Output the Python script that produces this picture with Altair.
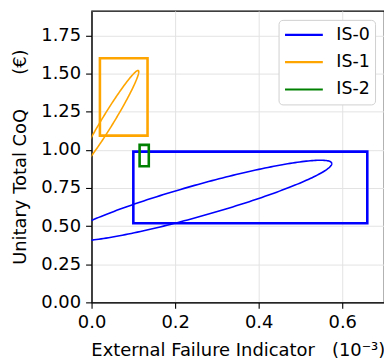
import altair as alt
import numpy as np
import pandas as pd

# Series
series = ["IS-0", "IS-1", "IS-2"]
colors = ["#0000ff", "#ffa500", "#008000"]

# Rectangles (ranges) per series
box_x1 = [0.100, 0.020, 0.115]
box_x2 = [0.660, 0.134, 0.137]
box_y1 = [0.518, 1.093, 0.892]
box_y2 = [0.988, 1.600, 1.032]

# Ellipse parameters per series: centre, x half-width, y coupling terms
ell_series = ["IS-0", "IS-1"]
ell_cx = [0.255, 0.040]
ell_cy = [0.666, 1.195]
ell_sx = [0.320, 0.073]
ell_a = [0.243, 0.316]
ell_b = [0.107, 0.073]

x_ticks = [0.0, 0.2, 0.4, 0.6]
y_ticks = [0.0, 0.25, 0.5, 0.75, 1.0, 1.25, 1.5, 1.75]

box_df = pd.DataFrame({"series": series, "x1": box_x1, "x2": box_x2,
                       "y1": box_y1, "y2": box_y2})

t = np.linspace(0, 2 * np.pi, 241)
rows = []
for s, cx, cy, sx, a, b in zip(ell_series, ell_cx, ell_cy, ell_sx, ell_a, ell_b):
    for i, tt in enumerate(t):
        rows.append({"series": s, "t": i,
                     "x": cx + sx * np.cos(tt),
                     "y": cy + a * np.cos(tt) + b * np.sin(tt)})
ell_df = pd.DataFrame(rows)

NB = "\u00a0"
x_scale = alt.Scale(domain=[0, 0.7], nice=False, zero=False)
y_scale = alt.Scale(domain=[0, 1.91], nice=False, zero=False)
c_scale = alt.Scale(domain=series, range=colors)

x_axis = alt.Axis(title="External Failure Indicator" + NB * 3 + "(10⁻³)",
                  values=x_ticks, format=".1f", labelFlush=False)
y_axis = alt.Axis(title="Unitary Total CoQ" + NB * 6 + "(€)",
                  values=y_ticks, format=".2f", labelFlush=False)

legend = alt.Legend(title=None, orient="top-right", offset=9,
                    symbolType="stroke", symbolStrokeWidth=2.2,
                    symbolSize=1444, clipHeight=20, rowPadding=7.5,
                    labelFontSize=17.5, labelFont="DejaVu Sans",
                    labelColor="black", labelOffset=12,
                    strokeColor="#d0d0d0", fillColor="white",
                    cornerRadius=4, padding=5, symbolOpacity=1)

ell = alt.Chart(ell_df).mark_line(strokeWidth=1.6, clip=True).encode(
    x=alt.X("x:Q", scale=x_scale, axis=x_axis),
    y=alt.Y("y:Q", scale=y_scale, axis=y_axis),
    stroke=alt.Stroke("series:N", scale=c_scale, legend=legend),
    detail="series:N",
    order="t:Q",
)

rect = alt.Chart(box_df).mark_rect(filled=False, strokeWidth=2.6, clip=True).encode(
    x=alt.X("x1:Q", scale=x_scale),
    x2="x2:Q",
    y=alt.Y("y1:Q", scale=y_scale),
    y2="y2:Q",
    stroke=alt.Stroke("series:N", scale=c_scale, legend=legend),
)

chart = alt.layer(ell, rect).properties(
    width=294, height=293,
    autosize=alt.AutoSizeParams(type="none"),
    padding={"left": 84, "top": 2, "right": 0, "bottom": 56},
).configure_view(
    stroke="black", strokeWidth=1.2
).configure_axis(
    labelFont="DejaVu Sans", labelFontSize=18, labelColor="black",
    titleFont="DejaVu Sans", titleFontSize=18, titleFontWeight="normal",
    titleColor="black", tickColor="black", tickSize=6, tickWidth=1.1,
    domainColor="black", domainWidth=1.2, gridColor="#e3e3e3", gridWidth=1,
    labelPadding=5,
).configure_axisY(titlePadding=11).configure_axisX(titlePadding=10)

chart.save("out.html", embed_options={"renderer": "svg", "actions": False})
